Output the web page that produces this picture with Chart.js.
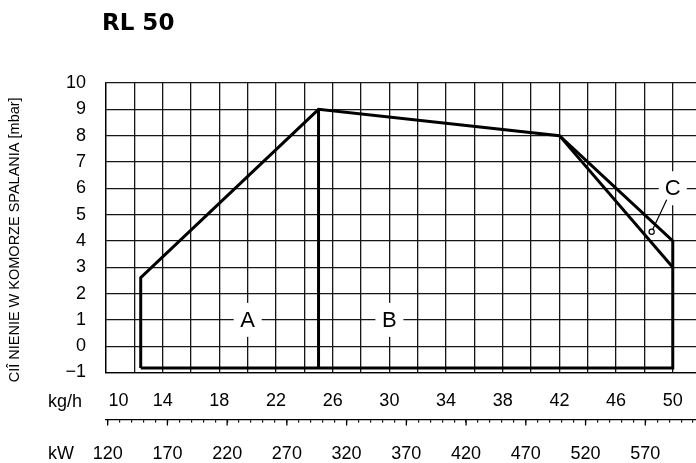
<!DOCTYPE html>
<html lang="pl">
<head>
    <meta charset="UTF-8">
    <title>RL 50</title>
    <style>
        html, body {
            margin: 0;
            padding: 0;
            background: white;
            overflow: hidden;
        }
    </style>
</head>
<body>
    <canvas id="chart" width="696" height="463"></canvas>

    <script src="https://cdn.jsdelivr.net/npm/chart.js"></script>
    <script>
        // assi
        const kgTicks = [10, 14, 18, 22, 26, 30, 34, 38, 42, 46, 50];
        const kwTicks = [120, 170, 220, 270, 320, 370, 420, 470, 520, 570];
        const kwPerKg = 11.86;
        const kgMin = 10, kgMax = 51.64;
        const mbarMin = -1, mbarMax = 10;

        // campo di lavoro A + B
        const outlineX = [12.45, 12.45, 25, 42, 50, 50, 12.45];
        const outlineY = [-0.83, 2.6, 9, 8, 4, -0.83, -0.83];
        // divisione A / B
        const splitX = [25, 25];
        const splitY = [9, -0.83];
        // limite C
        const innerX = [42, 50];
        const innerY = [8, 3];
        // richiamo C
        const leaderX = [49.57, 48.51];
        const leaderY = [5.56, 4.35];

        const zoneNames = ["A", "B", "C"];
        const zoneX = [20, 30, 50];
        const zoneY = [1, 1, 6];

        function pts(xs, ys) {
            return xs.map((x, i) => ({ x: x, y: ys[i] }));
        }

        const black = "#000";
        const gridCol = "#161616";

        const extras = {
            id: "extras",
            beforeDatasetsDraw(chart) {
                const ctx = chart.ctx;
                const x = chart.scales.x, y = chart.scales.y;
                ctx.save();
                ctx.font = "22px 'Liberation Sans', Arial, sans-serif";
                ctx.textAlign = "center";
                ctx.textBaseline = "middle";
                zoneNames.forEach((t, i) => {
                    const px = x.getPixelForValue(zoneX[i]);
                    const py = y.getPixelForValue(zoneY[i]);
                    ctx.fillStyle = "#fff";
                    ctx.fillRect(px - 14, py - 17, 28, 34);
                    ctx.fillStyle = black;
                    ctx.fillText(t, px, py + 1);
                });
                ctx.restore();
            },
            afterDraw(chart) {
                const ctx = chart.ctx;
                const kw = chart.scales.kw;
                ctx.save();
                // titolo
                ctx.fillStyle = black;
                ctx.font = "bold 23px 'DejaVu Sans', sans-serif";
                ctx.textAlign = "left";
                ctx.textBaseline = "alphabetic";
                ctx.fillText("RL 50", 102, 30);

                // unità
                ctx.font = "18px 'Liberation Sans', Arial, sans-serif";
                ctx.fillText("kg/h", 48, 407);
                ctx.fillText("kW", 48, 459);

                // tacche principali kW
                ctx.strokeStyle = black;
                ctx.lineWidth = 1.3;
                kwTicks.forEach(v => {
                    const px = kw.getPixelForValue(v);
                    ctx.beginPath();
                    ctx.moveTo(px, kw.top);
                    ctx.lineTo(px, kw.top + 6);
                    ctx.stroke();
                });
                ctx.restore();
            }
        };

        const tickFont = { family: "'Liberation Sans', Arial, sans-serif", size: 18 };
        const noSidePad = s => { s.paddingLeft = 0; s.paddingRight = 0; };

        new Chart(document.getElementById("chart"), {
            type: "scatter",
            data: {
                datasets: [
                    { data: pts(outlineX, outlineY), showLine: true, borderColor: black, borderWidth: 3, pointRadius: 0, borderJoinStyle: "miter" },
                    { data: pts(splitX, splitY), showLine: true, borderColor: black, borderWidth: 3, pointRadius: 0 },
                    { data: pts(innerX, innerY), showLine: true, borderColor: black, borderWidth: 3, pointRadius: 0 },
                    { data: pts(leaderX, leaderY), showLine: true, borderColor: black, borderWidth: 1.2,
                      pointRadius: [0, 2.6], pointBorderColor: black, pointBackgroundColor: "#fff", pointBorderWidth: 1.2 }
                ]
            },
            options: {
                responsive: false,
                animation: false,
                layout: { autoPadding: false, padding: { top: 83, right: 0, bottom: 0, left: 0 } },
                plugins: {
                    legend: { display: false },
                    tooltip: { enabled: false }
                },
                scales: {
                    x: {
                        type: "linear",
                        position: "bottom",
                        min: kgMin,
                        max: kgMax,
                        afterBuildTicks: s => { s.ticks = s.ticks.filter(t => Math.abs(t.value % 2) < 1e-6); },
                        afterFit: s => { s.height = 47; noSidePad(s); },
                        ticks: {
                            stepSize: 2,
                            includeBounds: false,
                            autoSkip: false,
                            maxRotation: 0,
                            padding: 18,
                            color: black,
                            font: tickFont,
                            callback: v => kgTicks.includes(v) ? (v === 10 ? "     10" : String(v)) : ""
                        },
                        grid: { color: gridCol, lineWidth: 1.3, drawTicks: false },
                        border: { color: black, width: 1.3 }
                    },
                    kw: {
                        type: "linear",
                        position: "bottom",
                        min: kgMin * kwPerKg,
                        max: kgMax * kwPerKg,
                        afterBuildTicks: s => { s.ticks = s.ticks.filter(t => Math.abs(t.value - Math.round(t.value / 10) * 10) < 1e-6); },
                        afterFit: s => { s.height = 43.5; noSidePad(s); },
                        ticks: {
                            stepSize: 10,
                            includeBounds: false,
                            autoSkip: false,
                            maxRotation: 0,
                            padding: 21,
                            color: black,
                            font: tickFont,
                            callback: v => kwTicks.includes(Math.round(v)) ? String(Math.round(v)) : ""
                        },
                        grid: { drawOnChartArea: false, drawTicks: true, tickLength: 3, color: black, lineWidth: 1.2 },
                        border: { color: black, width: 1.3 }
                    },
                    y: {
                        type: "linear",
                        min: mbarMin,
                        max: mbarMax,
                        afterFit: s => { s.width = 106; },
                        ticks: {
                            stepSize: 1,
                            padding: 20,
                            color: black,
                            font: tickFont,
                            callback: v => v < 0 ? "\u2212" + Math.abs(v) : String(v)
                        },
                        grid: { color: gridCol, lineWidth: 1.3, drawTicks: false },
                        border: { color: black, width: 1.3 },
                        title: {
                            display: true,
                            // spazi finali: spostano il testo verso il basso come nell'originale
                            text: "CIÎ NIENIE W KOMORZE SPALANIA [mbar]      ",
                            color: black,
                            font: { family: "'Liberation Sans Narrow', 'Liberation Sans', Arial, sans-serif", size: 14.5 },
                            padding: { top: 6, bottom: 0 }
                        }
                    }
                }
            },
            plugins: [extras]
        });
    </script>
</body>
</html>
